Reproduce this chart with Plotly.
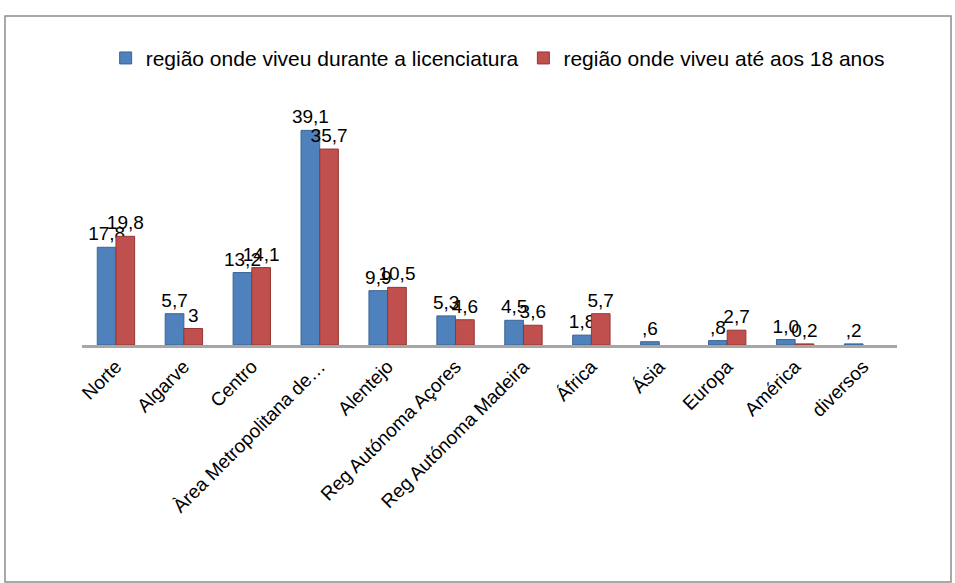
import plotly.graph_objects as go

categories = ["Norte", "Algarve", "Centro", "Àrea Metropolitana de…", "Alentejo",
              "Reg Autónoma Açores", "Reg Autónoma Madeira", "África", "Ásia",
              "Europa", "América", "diversos"]
licenciatura = [17.8, 5.7, 13.2, 39.1, 9.9, 5.3, 4.5, 1.8, 0.6, 0.8, 1.0, 0.2]
ate18 = [19.8, 3.0, 14.1, 35.7, 10.5, 4.6, 3.6, 5.7, None, 2.7, 0.2, None]
lic_labels = ["17,8", "5,7", "13,2", "39,1", "9,9", "5,3", "4,5", "1,8", ",6", ",8", "1,0", ",2"]
ate_labels = ["19,8", "3", "14,1", "35,7", "10,5", "4,6", "3,6", "5,7", "", "2,7", "0,2", ""]

W, H = 955, 583
L, R, T, B = 82, 58, 98, 238
FONT = "Liberation Sans, Arial, sans-serif"

fig = go.Figure()
fig.add_trace(go.Bar(
    x=categories, y=licenciatura, name="região onde viveu durante a licenciatura",
    marker=dict(color="#4F81BD", line=dict(color="#3A6594", width=1)),
    text=lic_labels, textposition="outside", cliponaxis=False, constraintext="none",
    textfont=dict(size=19, color="black", family=FONT),
))
fig.add_trace(go.Bar(
    x=categories, y=ate18, name="região onde viveu até aos 18 anos",
    marker=dict(color="#C0504D", line=dict(color="#943634", width=1)),
    text=ate_labels, textposition="outside", cliponaxis=False, constraintext="none",
    textfont=dict(size=19, color="black", family=FONT),
))

def px_to_paper_x(px):
    return (px - L) / (W - L - R)

def px_to_paper_y(py):
    return (H - B - py) / (H - T - B)

fig.update_layout(
    width=W, height=H,
    margin=dict(l=L, r=R, t=T, b=B),
    paper_bgcolor="white", plot_bgcolor="white",
    barmode="group", bargap=0.45, bargroupgap=0.0,
    font=dict(family=FONT, size=19, color="black"),
    legend=dict(orientation="h", x=0.51, xanchor="center", y=0.9, yanchor="middle",
                yref="container", font=dict(size=21, family=FONT),
                traceorder="normal"),
    xaxis=dict(tickangle=-45, showgrid=False, showline=True, linecolor="#A6A6A6",
               linewidth=3, ticks="", tickfont=dict(size=19, family=FONT)),
    yaxis=dict(range=[0, 45], visible=False),
    showlegend=True,
    shapes=[dict(type="rect", xref="paper", yref="paper",
                 x0=px_to_paper_x(5), x1=px_to_paper_x(951),
                 y0=px_to_paper_y(582), y1=px_to_paper_y(16),
                 line=dict(color="#8C8C8C", width=1.5), fillcolor="rgba(0,0,0,0)",
                 layer="below")],
)

fig.write_html("out.html", config={"displayModeBar": False},
               post_script="document.body.style.margin='0';")
